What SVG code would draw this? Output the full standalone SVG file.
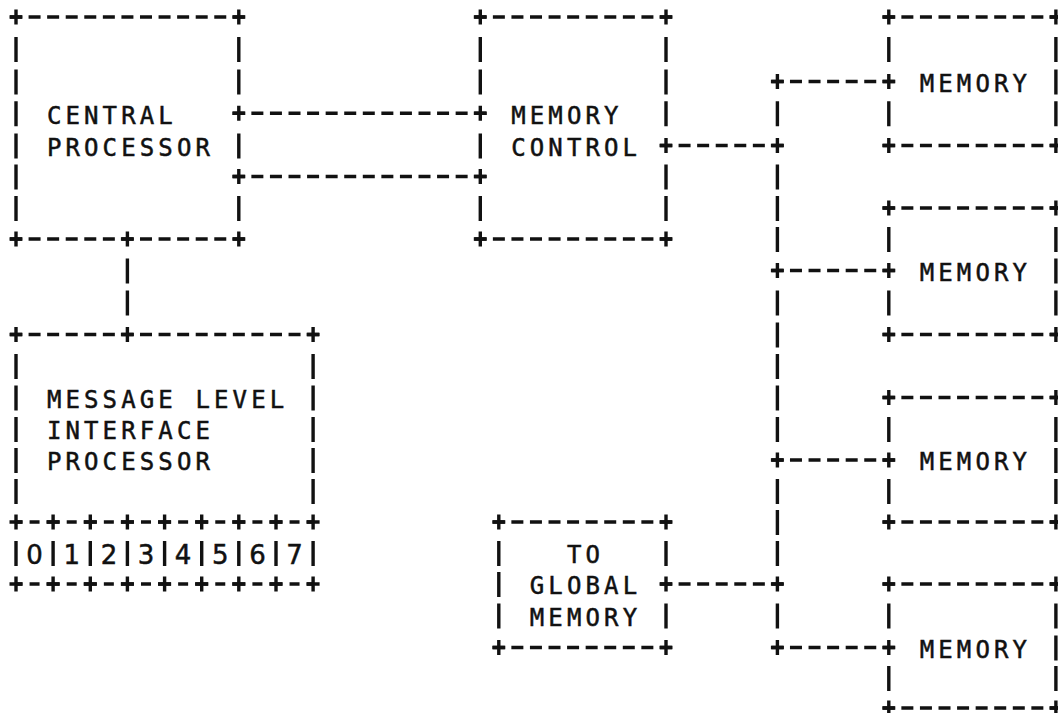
<svg xmlns="http://www.w3.org/2000/svg" xmlns:xlink="http://www.w3.org/1999/xlink" width="1058" height="713" viewBox="0 0 1058 713">
<style>
.e{fill:none;stroke:#111;stroke-width:3.4;stroke-linecap:butt}
.h{stroke-dasharray:12 6.57}
.hp{stroke-dasharray:6.5 7.07 10 7.07 6.5 0}
.t{font-family:"DejaVu Sans Mono","Liberation Mono",monospace;font-size:24px;letter-spacing:4.12px;fill:#111;stroke:#111;stroke-width:0.5}
.d{font-family:"DejaVu Sans","Liberation Sans",sans-serif;font-size:26px;fill:#111;stroke:#111;stroke-width:0.5;text-anchor:middle}
</style>
<defs>
<path id="p" d="M-6.5 0H6.5M0 -7.5V7.5" fill="none" stroke="#111" stroke-width="3.4"/>
</defs>
<rect width="1058" height="713" fill="#fff"/>

<g id="connectors">
<path class="e h" d="M232.8 113.3H486.3M232.8 176.5H486.3M660 145.5H783.4M660 584H783.4M771.4 81.5H894.8M771.4 270.5H894.8M771.4 460H894.8M771.4 647.5H894.8"/>
<path class="e" d="M777.4 101.3V126.3M777.4 164.5V189.5M777.4 196V221M777.4 227V252M777.4 290.5V315.5M777.4 322.5V347.5M777.4 354V379M777.4 385.5V410.5M777.4 417V442M777.4 479V504M777.4 510V535M777.4 541V566M777.4 603.5V628.5"/>
<path class="e" d="M127.4 258.5V283.5M127.4 290.5V315.5"/>
<use xlink:href="#p" x="777.4" y="81.5"/>
<use xlink:href="#p" x="777.4" y="145.5"/>
<use xlink:href="#p" x="777.4" y="270.5"/>
<use xlink:href="#p" x="777.4" y="460"/>
<use xlink:href="#p" x="777.4" y="584"/>
<use xlink:href="#p" x="777.4" y="647.5"/>
</g>

<g id="central-processor">
<path class="e h" d="M10 17H244.8M10 239H244.8"/>
<path class="e" d="M16 37V62M16 69.5V94.5M16 101.3V126.3M16 133.5V158.5M16 164.5V189.5M16 196V221M238.8 37V62M238.8 69.5V94.5M238.8 133.5V158.5M238.8 196V221"/>
<use xlink:href="#p" x="16" y="17"/>
<use xlink:href="#p" x="238.8" y="17"/>
<use xlink:href="#p" x="16" y="239"/>
<use xlink:href="#p" x="127.4" y="239"/>
<use xlink:href="#p" x="238.8" y="239"/>
<use xlink:href="#p" x="238.8" y="113.3"/>
<use xlink:href="#p" x="238.8" y="176.5"/>
<text class="t" x="46.9" y="123.55">CENTRAL</text>
<text class="t" x="46.9" y="155.75">PROCESSOR</text>
</g>

<g id="memory-control">
<path class="e h" d="M474.3 17H672M474.3 239H672"/>
<path class="e" d="M480.3 37V62M480.3 69.5V94.5M480.3 133.5V158.5M480.3 196V221M666 37V62M666 69.5V94.5M666 101.3V126.3M666 164.5V189.5M666 196V221"/>
<use xlink:href="#p" x="480.3" y="17"/>
<use xlink:href="#p" x="666" y="17"/>
<use xlink:href="#p" x="480.3" y="239"/>
<use xlink:href="#p" x="666" y="239"/>
<use xlink:href="#p" x="480.3" y="113.3"/>
<use xlink:href="#p" x="480.3" y="176.5"/>
<use xlink:href="#p" x="666" y="145.5"/>
<text class="t" x="511.2" y="123.55">MEMORY</text>
<text class="t" x="511.2" y="155.75">CONTROL</text>
</g>

<g id="memory-1">
<path class="e h" d="M882.8 17H1061.9M882.8 145.5H1061.9"/>
<path class="e" d="M888.8 37V62M888.8 101.3V126.3M1055.9 37V62M1055.9 69.5V94.5M1055.9 101.3V126.3"/>
<use xlink:href="#p" x="888.8" y="17"/>
<use xlink:href="#p" x="1055.9" y="17"/>
<use xlink:href="#p" x="888.8" y="145.5"/>
<use xlink:href="#p" x="1055.9" y="145.5"/>
<use xlink:href="#p" x="888.8" y="81.5"/>
<text class="t" x="919.7" y="91.75">MEMORY</text>
</g>

<g id="memory-2">
<path class="e h" d="M882.8 208H1061.9M882.8 334.5H1061.9"/>
<path class="e" d="M888.8 227V252M888.8 290.5V315.5M1055.9 227V252M1055.9 258.5V283.5M1055.9 290.5V315.5"/>
<use xlink:href="#p" x="888.8" y="208"/>
<use xlink:href="#p" x="1055.9" y="208"/>
<use xlink:href="#p" x="888.8" y="334.5"/>
<use xlink:href="#p" x="1055.9" y="334.5"/>
<use xlink:href="#p" x="888.8" y="270.5"/>
<text class="t" x="919.7" y="280.75">MEMORY</text>
</g>

<g id="memory-3">
<path class="e h" d="M882.8 397.5H1061.9M882.8 522H1061.9"/>
<path class="e" d="M888.8 417V442M888.8 479V504M1055.9 417V442M1055.9 448V473M1055.9 479V504"/>
<use xlink:href="#p" x="888.8" y="397.5"/>
<use xlink:href="#p" x="1055.9" y="397.5"/>
<use xlink:href="#p" x="888.8" y="522"/>
<use xlink:href="#p" x="1055.9" y="522"/>
<use xlink:href="#p" x="888.8" y="460"/>
<text class="t" x="919.7" y="470.25">MEMORY</text>
</g>

<g id="memory-4">
<path class="e h" d="M882.8 584H1061.9M882.8 708H1061.9"/>
<path class="e" d="M888.8 603.5V628.5M888.8 666V691M1055.9 603.5V628.5M1055.9 635.5V660.5M1055.9 666V691"/>
<use xlink:href="#p" x="888.8" y="584"/>
<use xlink:href="#p" x="1055.9" y="584"/>
<use xlink:href="#p" x="888.8" y="708"/>
<use xlink:href="#p" x="1055.9" y="708"/>
<use xlink:href="#p" x="888.8" y="647.5"/>
<text class="t" x="919.7" y="657.75">MEMORY</text>
</g>

<g id="message-level-interface-processor">
<path class="e h" d="M10 334.5H319.1"/>
<path class="e hp" d="M16 522H313.1M16 584H313.1"/>
<path class="e" d="M16 354V379M16 385.5V410.5M16 417V442M16 448V473M16 479V504M313.1 354V379M313.1 385.5V410.5M313.1 417V442M313.1 448V473M313.1 479V504"/>
<path class="e" d="M16 541V566M53.1 541V566M90.3 541V566M127.4 541V566M164.6 541V566M201.7 541V566M238.8 541V566M276 541V566M313.1 541V566"/>
<use xlink:href="#p" x="16" y="334.5"/>
<use xlink:href="#p" x="127.4" y="334.5"/>
<use xlink:href="#p" x="313.1" y="334.5"/>
<use xlink:href="#p" x="16" y="522"/>
<use xlink:href="#p" x="53.1" y="522"/>
<use xlink:href="#p" x="90.3" y="522"/>
<use xlink:href="#p" x="127.4" y="522"/>
<use xlink:href="#p" x="164.6" y="522"/>
<use xlink:href="#p" x="201.7" y="522"/>
<use xlink:href="#p" x="238.8" y="522"/>
<use xlink:href="#p" x="276" y="522"/>
<use xlink:href="#p" x="313.1" y="522"/>
<use xlink:href="#p" x="16" y="584"/>
<use xlink:href="#p" x="53.1" y="584"/>
<use xlink:href="#p" x="90.3" y="584"/>
<use xlink:href="#p" x="127.4" y="584"/>
<use xlink:href="#p" x="164.6" y="584"/>
<use xlink:href="#p" x="201.7" y="584"/>
<use xlink:href="#p" x="238.8" y="584"/>
<use xlink:href="#p" x="276" y="584"/>
<use xlink:href="#p" x="313.1" y="584"/>
<text class="t" x="46.9" y="407.75">MESSAGE LEVEL</text>
<text class="t" x="46.9" y="439.25">INTERFACE</text>
<text class="t" x="46.9" y="470.25">PROCESSOR</text>
<text class="d" x="34.6" y="563.5">0</text>
<text class="d" x="71.7" y="563.5">1</text>
<text class="d" x="108.9" y="563.5">2</text>
<text class="d" x="146" y="563.5">3</text>
<text class="d" x="183.1" y="563.5">4</text>
<text class="d" x="220.3" y="563.5">5</text>
<text class="d" x="257.4" y="563.5">6</text>
<text class="d" x="294.6" y="563.5">7</text>
</g>

<g id="global-memory">
<path class="e h" d="M492.8 522H672M492.8 647.5H672"/>
<path class="e" d="M498.8 541V566M498.8 572V597M498.8 603.5V628.5M666 541V566M666 603.5V628.5"/>
<use xlink:href="#p" x="498.8" y="522"/>
<use xlink:href="#p" x="666" y="522"/>
<use xlink:href="#p" x="498.8" y="647.5"/>
<use xlink:href="#p" x="666" y="647.5"/>
<use xlink:href="#p" x="666" y="584"/>
<text class="t" x="566.9" y="563.25">TO</text>
<text class="t" x="529.8" y="594.25">GLOBAL</text>
<text class="t" x="529.8" y="625.75">MEMORY</text>
</g>
</svg>
